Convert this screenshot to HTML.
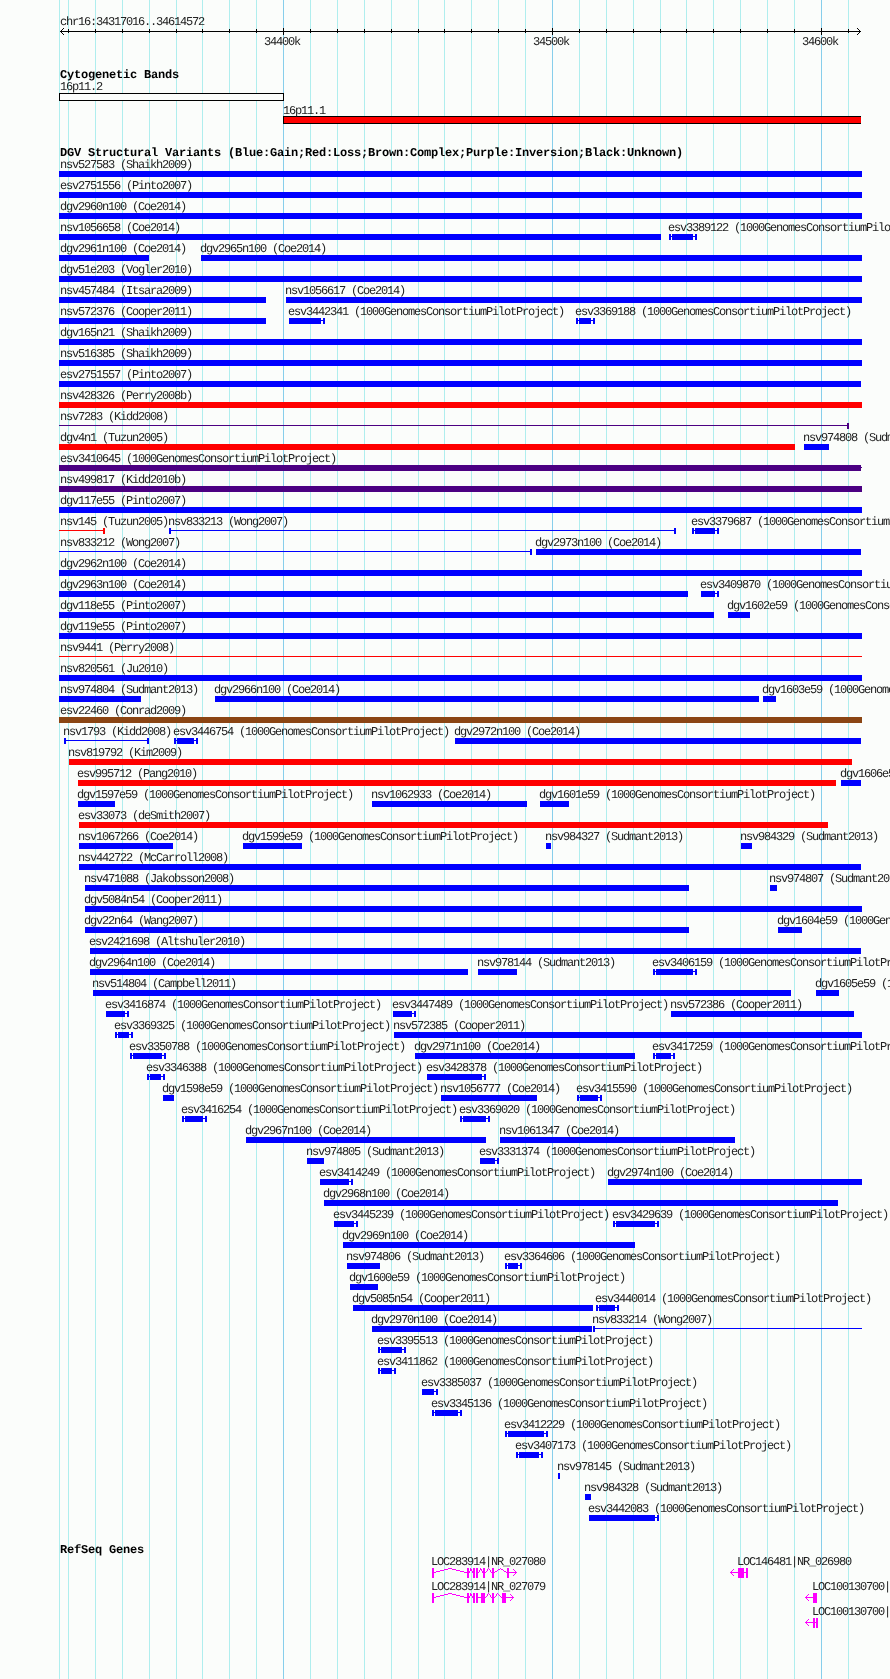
<!DOCTYPE html>
<html><head><meta charset="utf-8"><style>
html,body{margin:0;padding:0;background:#fbfdfb;width:890px;height:1679px;overflow:hidden}
svg{display:block;will-change:transform}
.s{font-family:"Liberation Mono",monospace;font-size:12px;letter-spacing:-1.2px;fill:#222;text-rendering:geometricPrecision}
.b{font-family:"Liberation Mono",monospace;font-size:12px;letter-spacing:-0.2px;font-weight:bold;fill:#000;text-rendering:geometricPrecision}
</style></head><body>
<svg width="890" height="1679" viewBox="0 0 890 1679">
<g shape-rendering="crispEdges">
<rect x="59" y="0" width="1" height="1679" fill="#afeeee"/>
<rect x="68" y="0" width="1" height="1679" fill="#afeeee"/>
<rect x="95" y="0" width="1" height="1679" fill="#afeeee"/>
<rect x="122" y="0" width="1" height="1679" fill="#afeeee"/>
<rect x="149" y="0" width="1" height="1679" fill="#afeeee"/>
<rect x="176" y="0" width="1" height="1679" fill="#afeeee"/>
<rect x="202" y="0" width="1" height="1679" fill="#afeeee"/>
<rect x="229" y="0" width="1" height="1679" fill="#afeeee"/>
<rect x="256" y="0" width="1" height="1679" fill="#afeeee"/>
<rect x="283" y="0" width="1" height="1679" fill="#87ceeb"/>
<rect x="310" y="0" width="1" height="1679" fill="#afeeee"/>
<rect x="337" y="0" width="1" height="1679" fill="#afeeee"/>
<rect x="364" y="0" width="1" height="1679" fill="#afeeee"/>
<rect x="391" y="0" width="1" height="1679" fill="#afeeee"/>
<rect x="418" y="0" width="1" height="1679" fill="#afeeee"/>
<rect x="444" y="0" width="1" height="1679" fill="#afeeee"/>
<rect x="471" y="0" width="1" height="1679" fill="#afeeee"/>
<rect x="498" y="0" width="1" height="1679" fill="#afeeee"/>
<rect x="525" y="0" width="1" height="1679" fill="#afeeee"/>
<rect x="552" y="0" width="1" height="1679" fill="#87ceeb"/>
<rect x="579" y="0" width="1" height="1679" fill="#afeeee"/>
<rect x="606" y="0" width="1" height="1679" fill="#afeeee"/>
<rect x="633" y="0" width="1" height="1679" fill="#afeeee"/>
<rect x="660" y="0" width="1" height="1679" fill="#afeeee"/>
<rect x="686" y="0" width="1" height="1679" fill="#afeeee"/>
<rect x="713" y="0" width="1" height="1679" fill="#afeeee"/>
<rect x="740" y="0" width="1" height="1679" fill="#afeeee"/>
<rect x="767" y="0" width="1" height="1679" fill="#afeeee"/>
<rect x="794" y="0" width="1" height="1679" fill="#afeeee"/>
<rect x="821" y="0" width="1" height="1679" fill="#87ceeb"/>
<rect x="848" y="0" width="1" height="1679" fill="#afeeee"/>
<rect x="60" y="31" width="801" height="1" fill="#000"/>
<rect x="61" y="30" width="1" height="1" fill="#000"/>
<rect x="61" y="32" width="1" height="1" fill="#000"/>
<rect x="859" y="30" width="1" height="1" fill="#000"/>
<rect x="859" y="32" width="1" height="1" fill="#000"/>
<rect x="62" y="29" width="1" height="1" fill="#000"/>
<rect x="62" y="33" width="1" height="1" fill="#000"/>
<rect x="858" y="29" width="1" height="1" fill="#000"/>
<rect x="858" y="33" width="1" height="1" fill="#000"/>
<rect x="63" y="28" width="1" height="1" fill="#000"/>
<rect x="63" y="34" width="1" height="1" fill="#000"/>
<rect x="857" y="28" width="1" height="1" fill="#000"/>
<rect x="857" y="34" width="1" height="1" fill="#000"/>
<rect x="68" y="29" width="1" height="4" fill="#000"/>
<rect x="95" y="29" width="1" height="4" fill="#000"/>
<rect x="122" y="29" width="1" height="4" fill="#000"/>
<rect x="149" y="29" width="1" height="4" fill="#000"/>
<rect x="176" y="29" width="1" height="4" fill="#000"/>
<rect x="202" y="29" width="1" height="4" fill="#000"/>
<rect x="229" y="29" width="1" height="4" fill="#000"/>
<rect x="256" y="29" width="1" height="4" fill="#000"/>
<rect x="283" y="28" width="1" height="7" fill="#000"/>
<rect x="310" y="29" width="1" height="4" fill="#000"/>
<rect x="337" y="29" width="1" height="4" fill="#000"/>
<rect x="364" y="29" width="1" height="4" fill="#000"/>
<rect x="391" y="29" width="1" height="4" fill="#000"/>
<rect x="418" y="29" width="1" height="4" fill="#000"/>
<rect x="444" y="29" width="1" height="4" fill="#000"/>
<rect x="471" y="29" width="1" height="4" fill="#000"/>
<rect x="498" y="29" width="1" height="4" fill="#000"/>
<rect x="525" y="29" width="1" height="4" fill="#000"/>
<rect x="552" y="28" width="1" height="7" fill="#000"/>
<rect x="579" y="29" width="1" height="4" fill="#000"/>
<rect x="606" y="29" width="1" height="4" fill="#000"/>
<rect x="633" y="29" width="1" height="4" fill="#000"/>
<rect x="660" y="29" width="1" height="4" fill="#000"/>
<rect x="686" y="29" width="1" height="4" fill="#000"/>
<rect x="713" y="29" width="1" height="4" fill="#000"/>
<rect x="740" y="29" width="1" height="4" fill="#000"/>
<rect x="767" y="29" width="1" height="4" fill="#000"/>
<rect x="794" y="29" width="1" height="4" fill="#000"/>
<rect x="821" y="28" width="1" height="7" fill="#000"/>
<rect x="848" y="29" width="1" height="4" fill="#000"/>
<rect x="59.5" y="93.5" width="224" height="7" fill="#fbfdfb" stroke="#000"/>
<rect x="283" y="116" width="578" height="8" fill="#000"/>
<rect x="284" y="117" width="577" height="6" fill="#ff0000"/>
<rect x="59" y="171" width="803" height="6" fill="#0000ff"/>
<rect x="59" y="192" width="803" height="6" fill="#0000ff"/>
<rect x="59" y="213" width="803" height="6" fill="#0000ff"/>
<rect x="59" y="234" width="602" height="6" fill="#0000ff"/>
<rect x="695" y="234" width="2" height="6" fill="#0000ff"/>
<rect x="669" y="236" width="28" height="1" fill="#0000ff"/>
<rect x="669" y="234" width="2" height="6" fill="#0000ff"/>
<rect x="672" y="234" width="21" height="6" fill="#0000ff"/>
<rect x="59" y="255" width="90" height="6" fill="#0000ff"/>
<rect x="201" y="255" width="661" height="6" fill="#0000ff"/>
<rect x="59" y="276" width="803" height="6" fill="#0000ff"/>
<rect x="59" y="297" width="207" height="6" fill="#0000ff"/>
<rect x="286" y="297" width="576" height="6" fill="#0000ff"/>
<rect x="59" y="318" width="207" height="6" fill="#0000ff"/>
<rect x="323" y="318" width="2" height="6" fill="#0000ff"/>
<rect x="289" y="320" width="36" height="1" fill="#0000ff"/>
<rect x="289" y="318" width="32" height="6" fill="#0000ff"/>
<rect x="593" y="318" width="2" height="6" fill="#0000ff"/>
<rect x="576" y="320" width="19" height="1" fill="#0000ff"/>
<rect x="576" y="318" width="2" height="6" fill="#0000ff"/>
<rect x="579" y="318" width="12" height="6" fill="#0000ff"/>
<rect x="59" y="339" width="803" height="6" fill="#0000ff"/>
<rect x="59" y="360" width="803" height="6" fill="#0000ff"/>
<rect x="59" y="381" width="802" height="6" fill="#0000ff"/>
<rect x="59" y="402" width="803" height="6" fill="#ff0000"/>
<rect x="59" y="425" width="790" height="1" fill="#4b0082"/>
<rect x="847" y="423" width="2" height="6" fill="#4b0082"/>
<rect x="59" y="444" width="736" height="6" fill="#ff0000"/>
<rect x="804" y="444" width="25" height="6" fill="#0000ff"/>
<rect x="59" y="465" width="802" height="6" fill="#4b0082"/>
<rect x="59" y="486" width="803" height="6" fill="#4b0082"/>
<rect x="59" y="507" width="803" height="6" fill="#0000ff"/>
<rect x="59" y="530" width="46" height="1" fill="#ff0000"/>
<rect x="103" y="528" width="2" height="6" fill="#ff0000"/>
<rect x="169" y="530" width="507" height="1" fill="#0000ff"/>
<rect x="169" y="528" width="2" height="6" fill="#0000ff"/>
<rect x="674" y="528" width="2" height="6" fill="#0000ff"/>
<rect x="717" y="528" width="2" height="6" fill="#0000ff"/>
<rect x="692" y="530" width="27" height="1" fill="#0000ff"/>
<rect x="692" y="528" width="2" height="6" fill="#0000ff"/>
<rect x="695" y="528" width="20" height="6" fill="#0000ff"/>
<rect x="59" y="551" width="473" height="1" fill="#0000ff"/>
<rect x="530" y="549" width="2" height="6" fill="#0000ff"/>
<rect x="536" y="549" width="325" height="6" fill="#0000ff"/>
<rect x="59" y="570" width="803" height="6" fill="#0000ff"/>
<rect x="59" y="591" width="629" height="6" fill="#0000ff"/>
<rect x="717" y="591" width="2" height="6" fill="#0000ff"/>
<rect x="701" y="593" width="18" height="1" fill="#0000ff"/>
<rect x="701" y="591" width="14" height="6" fill="#0000ff"/>
<rect x="59" y="612" width="655" height="6" fill="#0000ff"/>
<rect x="728" y="612" width="22" height="6" fill="#0000ff"/>
<rect x="59" y="633" width="803" height="6" fill="#0000ff"/>
<rect x="59" y="656" width="803" height="1" fill="#ff0000"/>
<rect x="59" y="675" width="803" height="6" fill="#0000ff"/>
<rect x="59" y="696" width="82" height="6" fill="#0000ff"/>
<rect x="215" y="696" width="544" height="6" fill="#0000ff"/>
<rect x="763" y="696" width="13" height="6" fill="#0000ff"/>
<rect x="59" y="717" width="803" height="6" fill="#8b4513"/>
<rect x="64" y="740" width="85" height="1" fill="#0000ff"/>
<rect x="64" y="738" width="2" height="6" fill="#0000ff"/>
<rect x="147" y="738" width="2" height="6" fill="#0000ff"/>
<rect x="196" y="738" width="2" height="6" fill="#0000ff"/>
<rect x="174" y="740" width="24" height="1" fill="#0000ff"/>
<rect x="174" y="738" width="2" height="6" fill="#0000ff"/>
<rect x="177" y="738" width="17" height="6" fill="#0000ff"/>
<rect x="455" y="738" width="406" height="6" fill="#0000ff"/>
<rect x="69" y="759" width="783" height="6" fill="#ff0000"/>
<rect x="78" y="780" width="758" height="6" fill="#ff0000"/>
<rect x="841" y="780" width="20" height="6" fill="#0000ff"/>
<rect x="78" y="801" width="37" height="6" fill="#0000ff"/>
<rect x="372" y="801" width="155" height="6" fill="#0000ff"/>
<rect x="540" y="801" width="29" height="6" fill="#0000ff"/>
<rect x="79" y="822" width="749" height="6" fill="#ff0000"/>
<rect x="79" y="843" width="94" height="6" fill="#0000ff"/>
<rect x="243" y="843" width="59" height="6" fill="#0000ff"/>
<rect x="546" y="843" width="5" height="6" fill="#0000ff"/>
<rect x="741" y="843" width="11" height="6" fill="#0000ff"/>
<rect x="79" y="864" width="782" height="6" fill="#0000ff"/>
<rect x="85" y="885" width="604" height="6" fill="#0000ff"/>
<rect x="770" y="885" width="7" height="6" fill="#0000ff"/>
<rect x="85" y="906" width="777" height="6" fill="#0000ff"/>
<rect x="85" y="927" width="604" height="6" fill="#0000ff"/>
<rect x="778" y="927" width="24" height="6" fill="#0000ff"/>
<rect x="90" y="948" width="771" height="6" fill="#0000ff"/>
<rect x="90" y="969" width="378" height="6" fill="#0000ff"/>
<rect x="478" y="969" width="39" height="6" fill="#0000ff"/>
<rect x="695" y="969" width="2" height="6" fill="#0000ff"/>
<rect x="653" y="971" width="44" height="1" fill="#0000ff"/>
<rect x="653" y="969" width="2" height="6" fill="#0000ff"/>
<rect x="656" y="969" width="37" height="6" fill="#0000ff"/>
<rect x="93" y="990" width="698" height="6" fill="#0000ff"/>
<rect x="816" y="990" width="23" height="6" fill="#0000ff"/>
<rect x="127" y="1011" width="2" height="6" fill="#0000ff"/>
<rect x="106" y="1013" width="23" height="1" fill="#0000ff"/>
<rect x="106" y="1011" width="19" height="6" fill="#0000ff"/>
<rect x="414" y="1011" width="2" height="6" fill="#0000ff"/>
<rect x="393" y="1013" width="23" height="1" fill="#0000ff"/>
<rect x="393" y="1011" width="19" height="6" fill="#0000ff"/>
<rect x="671" y="1011" width="183" height="6" fill="#0000ff"/>
<rect x="131" y="1032" width="2" height="6" fill="#0000ff"/>
<rect x="115" y="1034" width="18" height="1" fill="#0000ff"/>
<rect x="115" y="1032" width="2" height="6" fill="#0000ff"/>
<rect x="118" y="1032" width="11" height="6" fill="#0000ff"/>
<rect x="394" y="1032" width="468" height="6" fill="#0000ff"/>
<rect x="164" y="1053" width="2" height="6" fill="#0000ff"/>
<rect x="130" y="1055" width="36" height="1" fill="#0000ff"/>
<rect x="130" y="1053" width="2" height="6" fill="#0000ff"/>
<rect x="133" y="1053" width="29" height="6" fill="#0000ff"/>
<rect x="415" y="1053" width="220" height="6" fill="#0000ff"/>
<rect x="673" y="1053" width="2" height="6" fill="#0000ff"/>
<rect x="653" y="1055" width="22" height="1" fill="#0000ff"/>
<rect x="653" y="1053" width="2" height="6" fill="#0000ff"/>
<rect x="656" y="1053" width="15" height="6" fill="#0000ff"/>
<rect x="163" y="1074" width="2" height="6" fill="#0000ff"/>
<rect x="147" y="1076" width="18" height="1" fill="#0000ff"/>
<rect x="147" y="1074" width="2" height="6" fill="#0000ff"/>
<rect x="150" y="1074" width="11" height="6" fill="#0000ff"/>
<rect x="484" y="1074" width="2" height="6" fill="#0000ff"/>
<rect x="427" y="1076" width="59" height="1" fill="#0000ff"/>
<rect x="427" y="1074" width="55" height="6" fill="#0000ff"/>
<rect x="163" y="1095" width="11" height="6" fill="#0000ff"/>
<rect x="441" y="1095" width="96" height="6" fill="#0000ff"/>
<rect x="600" y="1095" width="2" height="6" fill="#0000ff"/>
<rect x="577" y="1097" width="25" height="1" fill="#0000ff"/>
<rect x="577" y="1095" width="2" height="6" fill="#0000ff"/>
<rect x="580" y="1095" width="18" height="6" fill="#0000ff"/>
<rect x="205" y="1116" width="2" height="6" fill="#0000ff"/>
<rect x="182" y="1118" width="25" height="1" fill="#0000ff"/>
<rect x="182" y="1116" width="2" height="6" fill="#0000ff"/>
<rect x="185" y="1116" width="18" height="6" fill="#0000ff"/>
<rect x="488" y="1116" width="2" height="6" fill="#0000ff"/>
<rect x="460" y="1118" width="30" height="1" fill="#0000ff"/>
<rect x="460" y="1116" width="2" height="6" fill="#0000ff"/>
<rect x="463" y="1116" width="23" height="6" fill="#0000ff"/>
<rect x="246" y="1137" width="240" height="6" fill="#0000ff"/>
<rect x="500" y="1137" width="235" height="6" fill="#0000ff"/>
<rect x="307" y="1158" width="17" height="6" fill="#0000ff"/>
<rect x="497" y="1158" width="2" height="6" fill="#0000ff"/>
<rect x="480" y="1160" width="19" height="1" fill="#0000ff"/>
<rect x="480" y="1158" width="15" height="6" fill="#0000ff"/>
<rect x="351" y="1179" width="2" height="6" fill="#0000ff"/>
<rect x="320" y="1181" width="33" height="1" fill="#0000ff"/>
<rect x="320" y="1179" width="29" height="6" fill="#0000ff"/>
<rect x="608" y="1179" width="254" height="6" fill="#0000ff"/>
<rect x="324" y="1200" width="514" height="6" fill="#0000ff"/>
<rect x="356" y="1221" width="2" height="6" fill="#0000ff"/>
<rect x="334" y="1223" width="24" height="1" fill="#0000ff"/>
<rect x="334" y="1221" width="20" height="6" fill="#0000ff"/>
<rect x="657" y="1221" width="2" height="6" fill="#0000ff"/>
<rect x="613" y="1223" width="46" height="1" fill="#0000ff"/>
<rect x="613" y="1221" width="2" height="6" fill="#0000ff"/>
<rect x="616" y="1221" width="39" height="6" fill="#0000ff"/>
<rect x="343" y="1242" width="292" height="6" fill="#0000ff"/>
<rect x="347" y="1263" width="33" height="6" fill="#0000ff"/>
<rect x="520" y="1263" width="2" height="6" fill="#0000ff"/>
<rect x="505" y="1265" width="17" height="1" fill="#0000ff"/>
<rect x="505" y="1263" width="2" height="6" fill="#0000ff"/>
<rect x="508" y="1263" width="10" height="6" fill="#0000ff"/>
<rect x="350" y="1284" width="28" height="6" fill="#0000ff"/>
<rect x="353" y="1305" width="240" height="6" fill="#0000ff"/>
<rect x="617" y="1305" width="2" height="6" fill="#0000ff"/>
<rect x="596" y="1307" width="23" height="1" fill="#0000ff"/>
<rect x="596" y="1305" width="2" height="6" fill="#0000ff"/>
<rect x="599" y="1305" width="16" height="6" fill="#0000ff"/>
<rect x="372" y="1326" width="220" height="6" fill="#0000ff"/>
<rect x="593" y="1328" width="269" height="1" fill="#0000ff"/>
<rect x="593" y="1326" width="2" height="6" fill="#0000ff"/>
<rect x="404" y="1347" width="2" height="6" fill="#0000ff"/>
<rect x="378" y="1349" width="28" height="1" fill="#0000ff"/>
<rect x="378" y="1347" width="2" height="6" fill="#0000ff"/>
<rect x="381" y="1347" width="21" height="6" fill="#0000ff"/>
<rect x="394" y="1368" width="2" height="6" fill="#0000ff"/>
<rect x="378" y="1370" width="18" height="1" fill="#0000ff"/>
<rect x="378" y="1368" width="2" height="6" fill="#0000ff"/>
<rect x="381" y="1368" width="11" height="6" fill="#0000ff"/>
<rect x="436" y="1389" width="2" height="6" fill="#0000ff"/>
<rect x="422" y="1391" width="16" height="1" fill="#0000ff"/>
<rect x="422" y="1389" width="12" height="6" fill="#0000ff"/>
<rect x="460" y="1410" width="2" height="6" fill="#0000ff"/>
<rect x="432" y="1412" width="30" height="1" fill="#0000ff"/>
<rect x="432" y="1410" width="2" height="6" fill="#0000ff"/>
<rect x="435" y="1410" width="23" height="6" fill="#0000ff"/>
<rect x="546" y="1431" width="2" height="6" fill="#0000ff"/>
<rect x="505" y="1433" width="43" height="1" fill="#0000ff"/>
<rect x="505" y="1431" width="2" height="6" fill="#0000ff"/>
<rect x="508" y="1431" width="36" height="6" fill="#0000ff"/>
<rect x="541" y="1452" width="2" height="6" fill="#0000ff"/>
<rect x="516" y="1454" width="27" height="1" fill="#0000ff"/>
<rect x="516" y="1452" width="2" height="6" fill="#0000ff"/>
<rect x="519" y="1452" width="20" height="6" fill="#0000ff"/>
<rect x="558" y="1473" width="2" height="6" fill="#0000ff"/>
<rect x="585" y="1494" width="6" height="6" fill="#0000ff"/>
<rect x="657" y="1515" width="2" height="6" fill="#0000ff"/>
<rect x="589" y="1517" width="70" height="1" fill="#0000ff"/>
<rect x="589" y="1515" width="66" height="6" fill="#0000ff"/>
<rect x="861" y="467" width="1" height="1" fill="#4b0082"/>
<rect x="432" y="1568" width="2" height="10" fill="#ff00ff"/>
<rect x="467" y="1568" width="2" height="10" fill="#ff00ff"/>
<rect x="473" y="1568" width="2" height="10" fill="#ff00ff"/>
<rect x="476" y="1568" width="2" height="10" fill="#ff00ff"/>
<rect x="483" y="1568" width="2" height="10" fill="#ff00ff"/>
<rect x="492" y="1568" width="2" height="10" fill="#ff00ff"/>
<rect x="507" y="1568" width="2" height="10" fill="#ff00ff"/>
<rect x="434" y="1572" width="1" height="1" fill="#ff00ff"/>
<rect x="435" y="1572" width="1" height="1" fill="#ff00ff"/>
<rect x="436" y="1571" width="1" height="1" fill="#ff00ff"/>
<rect x="437" y="1571" width="1" height="1" fill="#ff00ff"/>
<rect x="438" y="1571" width="1" height="1" fill="#ff00ff"/>
<rect x="439" y="1571" width="1" height="1" fill="#ff00ff"/>
<rect x="440" y="1570" width="1" height="1" fill="#ff00ff"/>
<rect x="441" y="1570" width="1" height="1" fill="#ff00ff"/>
<rect x="442" y="1570" width="1" height="1" fill="#ff00ff"/>
<rect x="443" y="1570" width="1" height="1" fill="#ff00ff"/>
<rect x="444" y="1569" width="1" height="1" fill="#ff00ff"/>
<rect x="445" y="1569" width="1" height="1" fill="#ff00ff"/>
<rect x="446" y="1569" width="1" height="1" fill="#ff00ff"/>
<rect x="447" y="1569" width="1" height="1" fill="#ff00ff"/>
<rect x="448" y="1568" width="1" height="1" fill="#ff00ff"/>
<rect x="449" y="1568" width="1" height="1" fill="#ff00ff"/>
<rect x="450" y="1568" width="1" height="1" fill="#ff00ff"/>
<rect x="450" y="1568" width="1" height="1" fill="#ff00ff"/>
<rect x="451" y="1568" width="1" height="1" fill="#ff00ff"/>
<rect x="452" y="1569" width="1" height="1" fill="#ff00ff"/>
<rect x="453" y="1569" width="1" height="1" fill="#ff00ff"/>
<rect x="454" y="1569" width="1" height="1" fill="#ff00ff"/>
<rect x="455" y="1569" width="1" height="1" fill="#ff00ff"/>
<rect x="456" y="1570" width="1" height="1" fill="#ff00ff"/>
<rect x="457" y="1570" width="1" height="1" fill="#ff00ff"/>
<rect x="458" y="1570" width="1" height="1" fill="#ff00ff"/>
<rect x="459" y="1570" width="1" height="1" fill="#ff00ff"/>
<rect x="460" y="1571" width="1" height="1" fill="#ff00ff"/>
<rect x="461" y="1571" width="1" height="1" fill="#ff00ff"/>
<rect x="462" y="1571" width="1" height="1" fill="#ff00ff"/>
<rect x="463" y="1571" width="1" height="1" fill="#ff00ff"/>
<rect x="464" y="1572" width="1" height="1" fill="#ff00ff"/>
<rect x="465" y="1572" width="1" height="1" fill="#ff00ff"/>
<rect x="466" y="1572" width="1" height="1" fill="#ff00ff"/>
<rect x="469" y="1572" width="1" height="1" fill="#ff00ff"/>
<rect x="469" y="1571" width="1" height="1" fill="#ff00ff"/>
<rect x="470" y="1570" width="1" height="1" fill="#ff00ff"/>
<rect x="470" y="1569" width="1" height="1" fill="#ff00ff"/>
<rect x="470" y="1568" width="1" height="1" fill="#ff00ff"/>
<rect x="470" y="1568" width="1" height="1" fill="#ff00ff"/>
<rect x="471" y="1569" width="1" height="1" fill="#ff00ff"/>
<rect x="471" y="1570" width="1" height="1" fill="#ff00ff"/>
<rect x="472" y="1571" width="1" height="1" fill="#ff00ff"/>
<rect x="472" y="1572" width="1" height="1" fill="#ff00ff"/>
<rect x="478" y="1572" width="1" height="1" fill="#ff00ff"/>
<rect x="479" y="1571" width="1" height="1" fill="#ff00ff"/>
<rect x="479" y="1570" width="1" height="1" fill="#ff00ff"/>
<rect x="480" y="1569" width="1" height="1" fill="#ff00ff"/>
<rect x="480" y="1568" width="1" height="1" fill="#ff00ff"/>
<rect x="480" y="1568" width="1" height="1" fill="#ff00ff"/>
<rect x="481" y="1569" width="1" height="1" fill="#ff00ff"/>
<rect x="481" y="1570" width="1" height="1" fill="#ff00ff"/>
<rect x="482" y="1571" width="1" height="1" fill="#ff00ff"/>
<rect x="482" y="1572" width="1" height="1" fill="#ff00ff"/>
<rect x="485" y="1572" width="1" height="1" fill="#ff00ff"/>
<rect x="486" y="1571" width="1" height="1" fill="#ff00ff"/>
<rect x="487" y="1570" width="1" height="1" fill="#ff00ff"/>
<rect x="487" y="1569" width="1" height="1" fill="#ff00ff"/>
<rect x="488" y="1568" width="1" height="1" fill="#ff00ff"/>
<rect x="488" y="1568" width="1" height="1" fill="#ff00ff"/>
<rect x="489" y="1569" width="1" height="1" fill="#ff00ff"/>
<rect x="490" y="1570" width="1" height="1" fill="#ff00ff"/>
<rect x="490" y="1571" width="1" height="1" fill="#ff00ff"/>
<rect x="491" y="1572" width="1" height="1" fill="#ff00ff"/>
<rect x="494" y="1572" width="1" height="1" fill="#ff00ff"/>
<rect x="495" y="1571" width="1" height="1" fill="#ff00ff"/>
<rect x="496" y="1571" width="1" height="1" fill="#ff00ff"/>
<rect x="497" y="1570" width="1" height="1" fill="#ff00ff"/>
<rect x="498" y="1569" width="1" height="1" fill="#ff00ff"/>
<rect x="499" y="1569" width="1" height="1" fill="#ff00ff"/>
<rect x="500" y="1568" width="1" height="1" fill="#ff00ff"/>
<rect x="500" y="1568" width="1" height="1" fill="#ff00ff"/>
<rect x="501" y="1569" width="1" height="1" fill="#ff00ff"/>
<rect x="502" y="1569" width="1" height="1" fill="#ff00ff"/>
<rect x="503" y="1570" width="1" height="1" fill="#ff00ff"/>
<rect x="504" y="1571" width="1" height="1" fill="#ff00ff"/>
<rect x="505" y="1571" width="1" height="1" fill="#ff00ff"/>
<rect x="506" y="1572" width="1" height="1" fill="#ff00ff"/>
<rect x="509" y="1572" width="8" height="1" fill="#ff00ff"/>
<rect x="516" y="1572" width="1" height="1" fill="#ff00ff"/>
<rect x="515" y="1571" width="1" height="1" fill="#ff00ff"/>
<rect x="515" y="1573" width="1" height="1" fill="#ff00ff"/>
<rect x="514" y="1570" width="1" height="1" fill="#ff00ff"/>
<rect x="514" y="1574" width="1" height="1" fill="#ff00ff"/>
<rect x="513" y="1569" width="1" height="1" fill="#ff00ff"/>
<rect x="513" y="1575" width="1" height="1" fill="#ff00ff"/>
<rect x="432" y="1593" width="2" height="10" fill="#ff00ff"/>
<rect x="467" y="1593" width="2" height="10" fill="#ff00ff"/>
<rect x="473" y="1593" width="2" height="10" fill="#ff00ff"/>
<rect x="476" y="1593" width="2" height="10" fill="#ff00ff"/>
<rect x="481" y="1593" width="4" height="10" fill="#ff00ff"/>
<rect x="492" y="1593" width="2" height="10" fill="#ff00ff"/>
<rect x="502" y="1593" width="4" height="10" fill="#ff00ff"/>
<rect x="434" y="1597" width="1" height="1" fill="#ff00ff"/>
<rect x="435" y="1597" width="1" height="1" fill="#ff00ff"/>
<rect x="436" y="1596" width="1" height="1" fill="#ff00ff"/>
<rect x="437" y="1596" width="1" height="1" fill="#ff00ff"/>
<rect x="438" y="1596" width="1" height="1" fill="#ff00ff"/>
<rect x="439" y="1596" width="1" height="1" fill="#ff00ff"/>
<rect x="440" y="1595" width="1" height="1" fill="#ff00ff"/>
<rect x="441" y="1595" width="1" height="1" fill="#ff00ff"/>
<rect x="442" y="1595" width="1" height="1" fill="#ff00ff"/>
<rect x="443" y="1595" width="1" height="1" fill="#ff00ff"/>
<rect x="444" y="1594" width="1" height="1" fill="#ff00ff"/>
<rect x="445" y="1594" width="1" height="1" fill="#ff00ff"/>
<rect x="446" y="1594" width="1" height="1" fill="#ff00ff"/>
<rect x="447" y="1594" width="1" height="1" fill="#ff00ff"/>
<rect x="448" y="1593" width="1" height="1" fill="#ff00ff"/>
<rect x="449" y="1593" width="1" height="1" fill="#ff00ff"/>
<rect x="450" y="1593" width="1" height="1" fill="#ff00ff"/>
<rect x="450" y="1593" width="1" height="1" fill="#ff00ff"/>
<rect x="451" y="1593" width="1" height="1" fill="#ff00ff"/>
<rect x="452" y="1594" width="1" height="1" fill="#ff00ff"/>
<rect x="453" y="1594" width="1" height="1" fill="#ff00ff"/>
<rect x="454" y="1594" width="1" height="1" fill="#ff00ff"/>
<rect x="455" y="1594" width="1" height="1" fill="#ff00ff"/>
<rect x="456" y="1595" width="1" height="1" fill="#ff00ff"/>
<rect x="457" y="1595" width="1" height="1" fill="#ff00ff"/>
<rect x="458" y="1595" width="1" height="1" fill="#ff00ff"/>
<rect x="459" y="1595" width="1" height="1" fill="#ff00ff"/>
<rect x="460" y="1596" width="1" height="1" fill="#ff00ff"/>
<rect x="461" y="1596" width="1" height="1" fill="#ff00ff"/>
<rect x="462" y="1596" width="1" height="1" fill="#ff00ff"/>
<rect x="463" y="1596" width="1" height="1" fill="#ff00ff"/>
<rect x="464" y="1597" width="1" height="1" fill="#ff00ff"/>
<rect x="465" y="1597" width="1" height="1" fill="#ff00ff"/>
<rect x="466" y="1597" width="1" height="1" fill="#ff00ff"/>
<rect x="469" y="1597" width="1" height="1" fill="#ff00ff"/>
<rect x="469" y="1596" width="1" height="1" fill="#ff00ff"/>
<rect x="470" y="1595" width="1" height="1" fill="#ff00ff"/>
<rect x="470" y="1594" width="1" height="1" fill="#ff00ff"/>
<rect x="470" y="1593" width="1" height="1" fill="#ff00ff"/>
<rect x="470" y="1593" width="1" height="1" fill="#ff00ff"/>
<rect x="471" y="1594" width="1" height="1" fill="#ff00ff"/>
<rect x="471" y="1595" width="1" height="1" fill="#ff00ff"/>
<rect x="472" y="1596" width="1" height="1" fill="#ff00ff"/>
<rect x="472" y="1597" width="1" height="1" fill="#ff00ff"/>
<rect x="485" y="1597" width="1" height="1" fill="#ff00ff"/>
<rect x="486" y="1596" width="1" height="1" fill="#ff00ff"/>
<rect x="487" y="1595" width="1" height="1" fill="#ff00ff"/>
<rect x="487" y="1594" width="1" height="1" fill="#ff00ff"/>
<rect x="488" y="1593" width="1" height="1" fill="#ff00ff"/>
<rect x="488" y="1593" width="1" height="1" fill="#ff00ff"/>
<rect x="489" y="1594" width="1" height="1" fill="#ff00ff"/>
<rect x="490" y="1595" width="1" height="1" fill="#ff00ff"/>
<rect x="490" y="1596" width="1" height="1" fill="#ff00ff"/>
<rect x="491" y="1597" width="1" height="1" fill="#ff00ff"/>
<rect x="494" y="1597" width="1" height="1" fill="#ff00ff"/>
<rect x="495" y="1596" width="1" height="1" fill="#ff00ff"/>
<rect x="496" y="1595" width="1" height="1" fill="#ff00ff"/>
<rect x="496" y="1594" width="1" height="1" fill="#ff00ff"/>
<rect x="497" y="1593" width="1" height="1" fill="#ff00ff"/>
<rect x="497" y="1593" width="1" height="1" fill="#ff00ff"/>
<rect x="498" y="1594" width="1" height="1" fill="#ff00ff"/>
<rect x="499" y="1595" width="1" height="1" fill="#ff00ff"/>
<rect x="500" y="1596" width="1" height="1" fill="#ff00ff"/>
<rect x="501" y="1597" width="1" height="1" fill="#ff00ff"/>
<rect x="478" y="1597" width="3" height="1" fill="#ff00ff"/>
<rect x="506" y="1597" width="8" height="1" fill="#ff00ff"/>
<rect x="513" y="1597" width="1" height="1" fill="#ff00ff"/>
<rect x="512" y="1596" width="1" height="1" fill="#ff00ff"/>
<rect x="512" y="1598" width="1" height="1" fill="#ff00ff"/>
<rect x="511" y="1595" width="1" height="1" fill="#ff00ff"/>
<rect x="511" y="1599" width="1" height="1" fill="#ff00ff"/>
<rect x="510" y="1594" width="1" height="1" fill="#ff00ff"/>
<rect x="510" y="1600" width="1" height="1" fill="#ff00ff"/>
<rect x="738" y="1568" width="6" height="10" fill="#ff00ff"/>
<rect x="746" y="1568" width="2" height="10" fill="#ff00ff"/>
<rect x="731" y="1572" width="7" height="1" fill="#ff00ff"/>
<rect x="744" y="1572" width="2" height="1" fill="#ff00ff"/>
<rect x="730" y="1572" width="1" height="1" fill="#ff00ff"/>
<rect x="731" y="1571" width="1" height="1" fill="#ff00ff"/>
<rect x="731" y="1573" width="1" height="1" fill="#ff00ff"/>
<rect x="732" y="1570" width="1" height="1" fill="#ff00ff"/>
<rect x="732" y="1574" width="1" height="1" fill="#ff00ff"/>
<rect x="733" y="1569" width="1" height="1" fill="#ff00ff"/>
<rect x="733" y="1575" width="1" height="1" fill="#ff00ff"/>
<rect x="813" y="1593" width="4" height="10" fill="#ff00ff"/>
<rect x="806" y="1597" width="7" height="1" fill="#ff00ff"/>
<rect x="805" y="1597" width="1" height="1" fill="#ff00ff"/>
<rect x="806" y="1596" width="1" height="1" fill="#ff00ff"/>
<rect x="806" y="1598" width="1" height="1" fill="#ff00ff"/>
<rect x="807" y="1595" width="1" height="1" fill="#ff00ff"/>
<rect x="807" y="1599" width="1" height="1" fill="#ff00ff"/>
<rect x="808" y="1594" width="1" height="1" fill="#ff00ff"/>
<rect x="808" y="1600" width="1" height="1" fill="#ff00ff"/>
<rect x="813" y="1618" width="2" height="10" fill="#ff00ff"/>
<rect x="816" y="1618" width="2" height="10" fill="#ff00ff"/>
<rect x="806" y="1622" width="7" height="1" fill="#ff00ff"/>
<rect x="815" y="1622" width="1" height="1" fill="#ff00ff"/>
<rect x="805" y="1622" width="1" height="1" fill="#ff00ff"/>
<rect x="806" y="1621" width="1" height="1" fill="#ff00ff"/>
<rect x="806" y="1623" width="1" height="1" fill="#ff00ff"/>
<rect x="807" y="1620" width="1" height="1" fill="#ff00ff"/>
<rect x="807" y="1624" width="1" height="1" fill="#ff00ff"/>
<rect x="808" y="1619" width="1" height="1" fill="#ff00ff"/>
<rect x="808" y="1625" width="1" height="1" fill="#ff00ff"/>
</g>
<text class="s" x="60" y="25">chr16:34317016..34614572</text>
<text class="s" x="264" y="45">34400k</text>
<text class="s" x="533" y="45">34500k</text>
<text class="s" x="802" y="45">34600k</text>
<text class="b" x="60" y="78">Cytogenetic Bands</text>
<text class="s" x="60" y="90">16p11.2</text>
<text class="s" x="283" y="114">16p11.1</text>
<text class="b" x="60" y="156">DGV Structural Variants (Blue:Gain;Red:Loss;Brown:Complex;Purple:Inversion;Black:Unknown)</text>
<text class="s" x="60" y="168">nsv527583 (Shaikh2009)</text>
<text class="s" x="60" y="189">esv2751556 (Pinto2007)</text>
<text class="s" x="60" y="210">dgv2960n100 (Coe2014)</text>
<text class="s" x="60" y="231">nsv1056658 (Coe2014)</text>
<text class="s" x="668" y="231">esv3389122 (1000GenomesConsortiumPilotProject)</text>
<text class="s" x="60" y="252">dgv2961n100 (Coe2014)</text>
<text class="s" x="200" y="252">dgv2965n100 (Coe2014)</text>
<text class="s" x="60" y="273">dgv51e203 (Vogler2010)</text>
<text class="s" x="60" y="294">nsv457484 (Itsara2009)</text>
<text class="s" x="285" y="294">nsv1056617 (Coe2014)</text>
<text class="s" x="60" y="315">nsv572376 (Cooper2011)</text>
<text class="s" x="288" y="315">esv3442341 (1000GenomesConsortiumPilotProject)</text>
<text class="s" x="575" y="315">esv3369188 (1000GenomesConsortiumPilotProject)</text>
<text class="s" x="60" y="336">dgv165n21 (Shaikh2009)</text>
<text class="s" x="60" y="357">nsv516385 (Shaikh2009)</text>
<text class="s" x="60" y="378">esv2751557 (Pinto2007)</text>
<text class="s" x="60" y="399">nsv428326 (Perry2008b)</text>
<text class="s" x="60" y="420">nsv7283 (Kidd2008)</text>
<text class="s" x="60" y="441">dgv4n1 (Tuzun2005)</text>
<text class="s" x="803" y="441">nsv974808 (Sudmant2013)</text>
<text class="s" x="60" y="462">esv3410645 (1000GenomesConsortiumPilotProject)</text>
<text class="s" x="60" y="483">nsv499817 (Kidd2010b)</text>
<text class="s" x="60" y="504">dgv117e55 (Pinto2007)</text>
<text class="s" x="60" y="525">nsv145 (Tuzun2005)</text>
<text class="s" x="168" y="525">nsv833213 (Wong2007)</text>
<text class="s" x="691" y="525">esv3379687 (1000GenomesConsortiumPilotProject)</text>
<text class="s" x="60" y="546">nsv833212 (Wong2007)</text>
<text class="s" x="535" y="546">dgv2973n100 (Coe2014)</text>
<text class="s" x="60" y="567">dgv2962n100 (Coe2014)</text>
<text class="s" x="60" y="588">dgv2963n100 (Coe2014)</text>
<text class="s" x="700" y="588">esv3409870 (1000GenomesConsortiumPilotProject)</text>
<text class="s" x="60" y="609">dgv118e55 (Pinto2007)</text>
<text class="s" x="727" y="609">dgv1602e59 (1000GenomesConsortiumPilotProject)</text>
<text class="s" x="60" y="630">dgv119e55 (Pinto2007)</text>
<text class="s" x="60" y="651">nsv9441 (Perry2008)</text>
<text class="s" x="60" y="672">nsv820561 (Ju2010)</text>
<text class="s" x="60" y="693">nsv974804 (Sudmant2013)</text>
<text class="s" x="214" y="693">dgv2966n100 (Coe2014)</text>
<text class="s" x="762" y="693">dgv1603e59 (1000GenomesConsortiumPilotProject)</text>
<text class="s" x="60" y="714">esv22460 (Conrad2009)</text>
<text class="s" x="63" y="735">nsv1793 (Kidd2008)</text>
<text class="s" x="173" y="735">esv3446754 (1000GenomesConsortiumPilotProject)</text>
<text class="s" x="454" y="735">dgv2972n100 (Coe2014)</text>
<text class="s" x="68" y="756">nsv819792 (Kim2009)</text>
<text class="s" x="77" y="777">esv995712 (Pang2010)</text>
<text class="s" x="840" y="777">dgv1606e59 (1000GenomesConsortiumPilotProject)</text>
<text class="s" x="77" y="798">dgv1597e59 (1000GenomesConsortiumPilotProject)</text>
<text class="s" x="371" y="798">nsv1062933 (Coe2014)</text>
<text class="s" x="539" y="798">dgv1601e59 (1000GenomesConsortiumPilotProject)</text>
<text class="s" x="78" y="819">esv33073 (deSmith2007)</text>
<text class="s" x="78" y="840">nsv1067266 (Coe2014)</text>
<text class="s" x="242" y="840">dgv1599e59 (1000GenomesConsortiumPilotProject)</text>
<text class="s" x="545" y="840">nsv984327 (Sudmant2013)</text>
<text class="s" x="740" y="840">nsv984329 (Sudmant2013)</text>
<text class="s" x="78" y="861">nsv442722 (McCarroll2008)</text>
<text class="s" x="84" y="882">nsv471088 (Jakobsson2008)</text>
<text class="s" x="769" y="882">nsv974807 (Sudmant2013)</text>
<text class="s" x="84" y="903">dgv5084n54 (Cooper2011)</text>
<text class="s" x="84" y="924">dgv22n64 (Wang2007)</text>
<text class="s" x="777" y="924">dgv1604e59 (1000GenomesConsortiumPilotProject)</text>
<text class="s" x="89" y="945">esv2421698 (Altshuler2010)</text>
<text class="s" x="89" y="966">dgv2964n100 (Coe2014)</text>
<text class="s" x="477" y="966">nsv978144 (Sudmant2013)</text>
<text class="s" x="652" y="966">esv3406159 (1000GenomesConsortiumPilotProject)</text>
<text class="s" x="92" y="987">nsv514804 (Campbell2011)</text>
<text class="s" x="815" y="987">dgv1605e59 (1000GenomesConsortiumPilotProject)</text>
<text class="s" x="105" y="1008">esv3416874 (1000GenomesConsortiumPilotProject)</text>
<text class="s" x="392" y="1008">esv3447489 (1000GenomesConsortiumPilotProject)</text>
<text class="s" x="670" y="1008">nsv572386 (Cooper2011)</text>
<text class="s" x="114" y="1029">esv3369325 (1000GenomesConsortiumPilotProject)</text>
<text class="s" x="393" y="1029">nsv572385 (Cooper2011)</text>
<text class="s" x="129" y="1050">esv3350788 (1000GenomesConsortiumPilotProject)</text>
<text class="s" x="414" y="1050">dgv2971n100 (Coe2014)</text>
<text class="s" x="652" y="1050">esv3417259 (1000GenomesConsortiumPilotProject)</text>
<text class="s" x="146" y="1071">esv3346388 (1000GenomesConsortiumPilotProject)</text>
<text class="s" x="426" y="1071">esv3428378 (1000GenomesConsortiumPilotProject)</text>
<text class="s" x="162" y="1092">dgv1598e59 (1000GenomesConsortiumPilotProject)</text>
<text class="s" x="440" y="1092">nsv1056777 (Coe2014)</text>
<text class="s" x="576" y="1092">esv3415590 (1000GenomesConsortiumPilotProject)</text>
<text class="s" x="181" y="1113">esv3416254 (1000GenomesConsortiumPilotProject)</text>
<text class="s" x="459" y="1113">esv3369020 (1000GenomesConsortiumPilotProject)</text>
<text class="s" x="245" y="1134">dgv2967n100 (Coe2014)</text>
<text class="s" x="499" y="1134">nsv1061347 (Coe2014)</text>
<text class="s" x="306" y="1155">nsv974805 (Sudmant2013)</text>
<text class="s" x="479" y="1155">esv3331374 (1000GenomesConsortiumPilotProject)</text>
<text class="s" x="319" y="1176">esv3414249 (1000GenomesConsortiumPilotProject)</text>
<text class="s" x="607" y="1176">dgv2974n100 (Coe2014)</text>
<text class="s" x="323" y="1197">dgv2968n100 (Coe2014)</text>
<text class="s" x="333" y="1218">esv3445239 (1000GenomesConsortiumPilotProject)</text>
<text class="s" x="612" y="1218">esv3429639 (1000GenomesConsortiumPilotProject)</text>
<text class="s" x="342" y="1239">dgv2969n100 (Coe2014)</text>
<text class="s" x="346" y="1260">nsv974806 (Sudmant2013)</text>
<text class="s" x="504" y="1260">esv3364606 (1000GenomesConsortiumPilotProject)</text>
<text class="s" x="349" y="1281">dgv1600e59 (1000GenomesConsortiumPilotProject)</text>
<text class="s" x="352" y="1302">dgv5085n54 (Cooper2011)</text>
<text class="s" x="595" y="1302">esv3440014 (1000GenomesConsortiumPilotProject)</text>
<text class="s" x="371" y="1323">dgv2970n100 (Coe2014)</text>
<text class="s" x="592" y="1323">nsv833214 (Wong2007)</text>
<text class="s" x="377" y="1344">esv3395513 (1000GenomesConsortiumPilotProject)</text>
<text class="s" x="377" y="1365">esv3411862 (1000GenomesConsortiumPilotProject)</text>
<text class="s" x="421" y="1386">esv3385037 (1000GenomesConsortiumPilotProject)</text>
<text class="s" x="431" y="1407">esv3345136 (1000GenomesConsortiumPilotProject)</text>
<text class="s" x="504" y="1428">esv3412229 (1000GenomesConsortiumPilotProject)</text>
<text class="s" x="515" y="1449">esv3407173 (1000GenomesConsortiumPilotProject)</text>
<text class="s" x="557" y="1470">nsv978145 (Sudmant2013)</text>
<text class="s" x="584" y="1491">nsv984328 (Sudmant2013)</text>
<text class="s" x="588" y="1512">esv3442083 (1000GenomesConsortiumPilotProject)</text>
<text class="b" x="60" y="1553">RefSeq Genes</text>
<text class="s" x="431" y="1565">LOC283914|NR_027080</text>
<text class="s" x="431" y="1590">LOC283914|NR_027079</text>
<text class="s" x="737" y="1565">LOC146481|NR_026980</text>
<text class="s" x="812" y="1590">LOC100130700|NR_026979</text>
<text class="s" x="812" y="1615">LOC100130700|NR_026978</text>
</svg>
</body></html>
